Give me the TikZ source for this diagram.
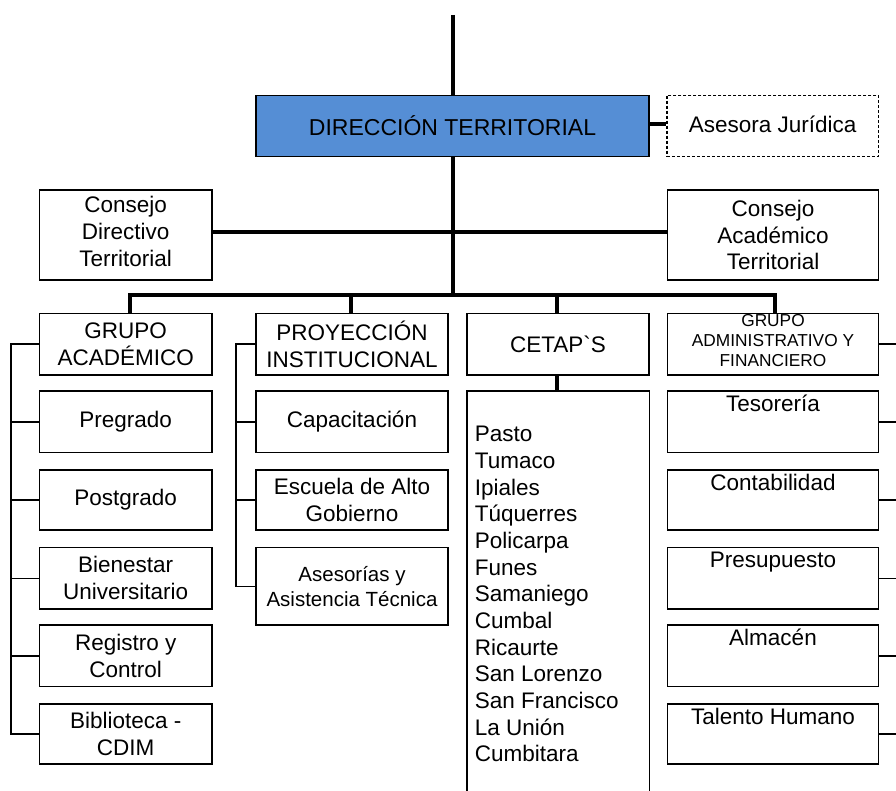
\documentclass[tikz,border=0pt]{standalone}
\usepackage{fontspec}
\setmainfont{Liberation Sans}[Ligatures=TeXOff]
\definecolor{dirblue}{RGB}{85,142,213}
\begin{document}
\begin{tikzpicture}[x=1pt,y=-1pt,
  box/.style={draw, line width=1.4pt, inner sep=0pt, align=center, font=\fontsize{22.5}{26.7}\selectfont},
  trunk/.style={line width=4pt},
  twig/.style={line width=1.6pt},
  txt/.style={inner sep=0pt, align=center, font=\fontsize{22.5}{26.7}\selectfont},
  wl/.style={minimum width=172.5pt},
  wp/.style={minimum width=192pt},
  wr/.style={minimum width=211pt}]
\useasboundingbox (0,0) rectangle (896,791);

% top level
\node[box, fill=dirblue, minimum width=393pt, minimum height=61pt, font=\fontsize{23}{27}\selectfont] (dir) at (452.5,126) {DIRECCIÓN TERRITORIAL};
\node[box, dash pattern=on 3pt off 2pt, line width=1.3pt, minimum width=211.5pt, minimum height=61.5pt] (ases) at (772.7,126) {};
\node[txt] (ases-t) at (772.7,124) {Asesora Jurídica};
\node[box, wl, minimum height=90pt] (cdt) at (125.7,235) {};
\node[txt] (cdt-t) at (125.7,231.5) {Consejo\\Directivo\\Territorial};
\node[box, wr, minimum height=90pt] (cat) at (773,235) {Consejo\\Académico\\Territorial};

% second row
\node[box, wl, minimum height=61.5pt] (ga) at (125.7,344.2) {GRUPO\\ACADÉMICO};
\node[box, wp, minimum height=61.5pt] (pi) at (352,344.2) {PROYECCIÓN\\INSTITUCIONAL};
\node[box, minimum width=182pt, minimum height=61.5pt] (cet) at (558,344.2) {CETAP`S};
\node[box, wr, minimum height=61.5pt] (gaf) at (773,344.2) {};
\node[txt, font=\fontsize{17.3}{20}\selectfont] (gaf-t) at (773,340.5) {GRUPO\\ADMINISTRATIVO Y\\FINANCIERO};

% academic children
\node[box, wl, minimum height=61.7pt] (preg) at (125.7,421.8) {Pregrado};
\node[box, wl, minimum height=60pt] (post) at (125.7,500) {Postgrado};
\node[box, wl, minimum height=61.3pt] (bien) at (125.7,578.3) {Bienestar\\Universitario};
\node[box, wl, minimum height=61.7pt] (reg) at (125.7,655.8) {Registro y\\Control};
\node[box, wl, minimum height=60pt] (bib) at (125.7,734) {Biblioteca -\\CDIM};

% proyeccion children
\node[box, wp, minimum height=61.7pt] (cap) at (352,421.8) {Capacitación};
\node[box, wp, minimum height=60pt] (esc) at (352,500) {Escuela de Alto\\Gobierno};
\node[box, wp, minimum height=77.3pt, font=\fontsize{20.5}{25}\selectfont] (asis) at (352,586.3) {Asesorías y\\Asistencia Técnica};

% administrative children
\node[box, wr, minimum height=61.7pt] (tes) at (773,421.8) {};
\node[box, wr, minimum height=60pt] (con) at (773,500) {};
\node[box, wr, minimum height=61.3pt] (pre) at (773,578.3) {};
\node[box, wr, minimum height=61.7pt] (alm) at (773,655.8) {};
\node[box, wr, minimum height=60pt] (tal) at (773,734) {};
\node[txt, anchor=base] (tes-t) at ([yshift=-21pt]tes.north) {Tesorería};
\node[txt, anchor=base] (con-t) at ([yshift=-21pt]con.north) {Contabilidad};
\node[txt, anchor=base] (pre-t) at ([yshift=-21pt]pre.north) {Presupuesto};
\node[txt, anchor=base] (alm-t) at ([yshift=-21pt]alm.north) {Almacén};
\node[txt, anchor=base] (tal-t) at ([yshift=-21pt]tal.north) {Talento Humano};

% CETAPS list
\node[minimum width=182pt, minimum height=400pt, inner sep=0pt] (lst) at (558,591) {};
\draw[line width=1.4pt] (lst.south west) |- (lst.north) -| (lst.south east);
\foreach \t [count=\i from 0] in {Pasto,Tumaco,Ipiales,Túquerres,Policarpa,Funes,Samaniego,Cumbal,Ricaurte,San Lorenzo,San Francisco,La Unión,Cumbitara}
  \node[txt, anchor=base west] (city\i) at (474.7,{441.7+\i*26.67}) {\t};

% trunk connectors
\coordinate (top) at (453,15);
\coordinate (busc) at (453,295);
\coordinate (bl) at (130,295);
\coordinate (br) at (775,295);
\coordinate (hc) at (0,232);
\draw[trunk] (top) -- (top |- dir.north);
\draw[trunk] (top |- dir.south) -- (busc);
\draw[trunk] (dir.east |- ases-t) -- (ases.west |- ases-t);
\draw[trunk] (cdt.east |- hc) -- (cat.west |- hc);
\draw[trunk] (bl |- ga.north) -- (bl) -- (br) -- (br |- gaf.north);
\draw[trunk] (351,295) -- (351,0 |- pi.north);
\draw[trunk] (556.5,295) -- (556.5,0 |- cet.north);
\draw[trunk] (556.5,0 |- cet.south) -- (556.5,0 |- lst.north);

% left spine
\coordinate (lx) at (11,0);
\draw[twig] (ga.west) -- (ga.west -| lx) -- (bib.west -| lx) -- (bib.west);
\foreach \n in {preg,post,bien,reg}
  \draw[twig] (\n.west -| lx) -- (\n.west);

% proyeccion spine
\coordinate (px) at (235.7,0);
\draw[twig] (pi.west) -- (pi.west -| px) -- (asis.west -| px) -- (asis.west);
\foreach \n in {cap,esc}
  \draw[twig] (\n.west -| px) -- (\n.west);

% right branches
\coordinate (rx) at (896,0);
\foreach \n in {gaf,tes,con,pre,alm,tal}
  \draw[twig] (\n.east) -- (\n.east -| rx);
\end{tikzpicture}
\end{document}
